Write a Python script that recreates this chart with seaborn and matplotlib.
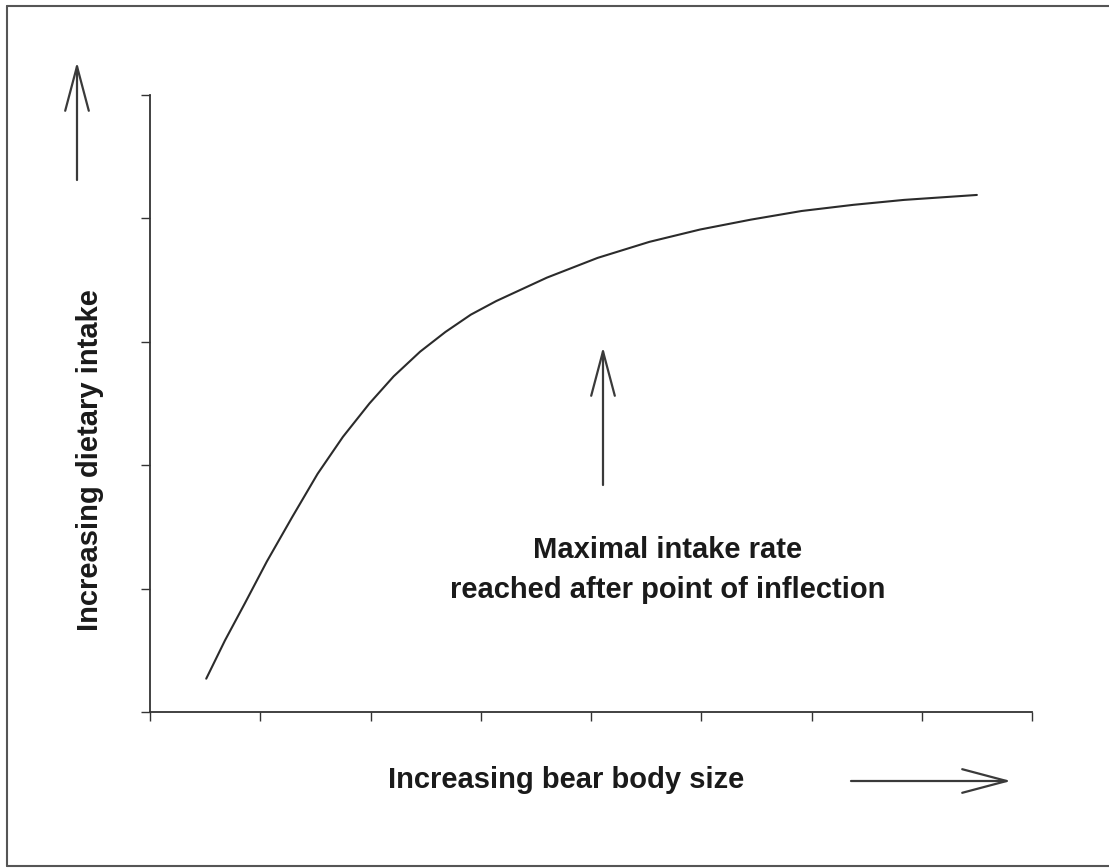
import matplotlib
matplotlib.use("Agg")
import matplotlib.pyplot as plt
from matplotlib.lines import Line2D
import seaborn as sns
import pandas as pd

# curve (x ticks 0..8, y ticks 0..5, no labels)
body_size = [0.51, 0.68, 0.86, 1.06, 1.29, 1.52, 1.75, 1.99, 2.21, 2.45,
             2.68, 2.91, 3.14, 3.60, 4.06, 4.53, 4.99, 5.45, 5.91, 6.38,
             6.84, 7.50]
intake = [0.27, 0.58, 0.88, 1.22, 1.58, 1.93, 2.23, 2.50, 2.72, 2.92,
          3.08, 3.22, 3.33, 3.52, 3.68, 3.81, 3.91, 3.99, 4.06, 4.11,
          4.15, 4.19]
x_ticks = [0, 1, 2, 3, 4, 5, 6, 7, 8]
y_ticks = [0, 1, 2, 3, 4, 5]

x_label = "Increasing bear body size"
y_label = "Increasing dietary intake"
note = "Maximal intake rate\nreached after point of inflection"

sns.set_style("ticks")
plt.rcParams["font.family"] = ["Liberation Sans", "DejaVu Sans"]

W, H = 1109, 868
fig = plt.figure(figsize=(W / 100, H / 100), dpi=100)
ax = fig.add_axes([150 / W, 1 - 712 / H, (1032 - 150) / W, (712 - 95) / H])

df = pd.DataFrame({"size": body_size, "intake": intake})
sns.lineplot(data=df, x="size", y="intake", ax=ax, color="#2b2b2b",
             linewidth=1.5, sort=False)

ax.set_xlim(x_ticks[0], x_ticks[-1])
ax.set_ylim(y_ticks[0], y_ticks[-1])
ax.set_xticks(x_ticks)
ax.set_yticks(y_ticks)
ax.set_xticklabels([])
ax.set_yticklabels([])
ax.set_xlabel("")
ax.set_ylabel("")
ax.tick_params(direction="out", length=6.5, width=1.0, color="#333333")
sns.despine(ax=ax)
for side in ("left", "bottom"):
    ax.spines[side].set_color("#333333")
    ax.spines[side].set_linewidth(1.3)


def fx(px):
    return px / W


def fy(py):
    return 1 - py / H


txt = dict(fontsize=21, fontweight="bold", color="#1a1a1a")
fig.text(fx(566), fy(780), x_label, ha="center", va="center", **txt)
fig.text(fx(90), fy(460), y_label, ha="center", va="center",
         rotation=90, **txt)
fig.text(fx(668), fy(570), note, ha="center", va="center",
         linespacing=1.55, **txt)

arrow = dict(arrowstyle="->,head_length=3.2,head_width=0.85",
             mutation_scale=10, color="#3a3a3a", lw=1.6,
             shrinkA=0, shrinkB=0)
# y-direction arrow, note arrow, x-direction arrow
ax.annotate("", xy=(fx(77), fy(62)), xytext=(fx(77), fy(180)),
            xycoords="figure fraction", arrowprops=arrow)
ax.annotate("", xy=(fx(603), fy(347)), xytext=(fx(603), fy(485)),
            xycoords="figure fraction", arrowprops=arrow)
ax.annotate("", xy=(fx(1011), fy(781)), xytext=(fx(851), fy(781)),
            xycoords="figure fraction", arrowprops=arrow)

# scanned page frame (right edge falls off the image)
frame = dict(color="#555555", lw=1.5, transform=fig.transFigure)
fig.add_artist(Line2D([fx(7), 1.0], [fy(6), fy(6)], **frame))
fig.add_artist(Line2D([fx(7), fx(7)], [fy(6), fy(866)], **frame))
fig.add_artist(Line2D([fx(7), 1.0], [fy(866), fy(866)], **frame))

fig.savefig("out.png", dpi=100, facecolor="white")
